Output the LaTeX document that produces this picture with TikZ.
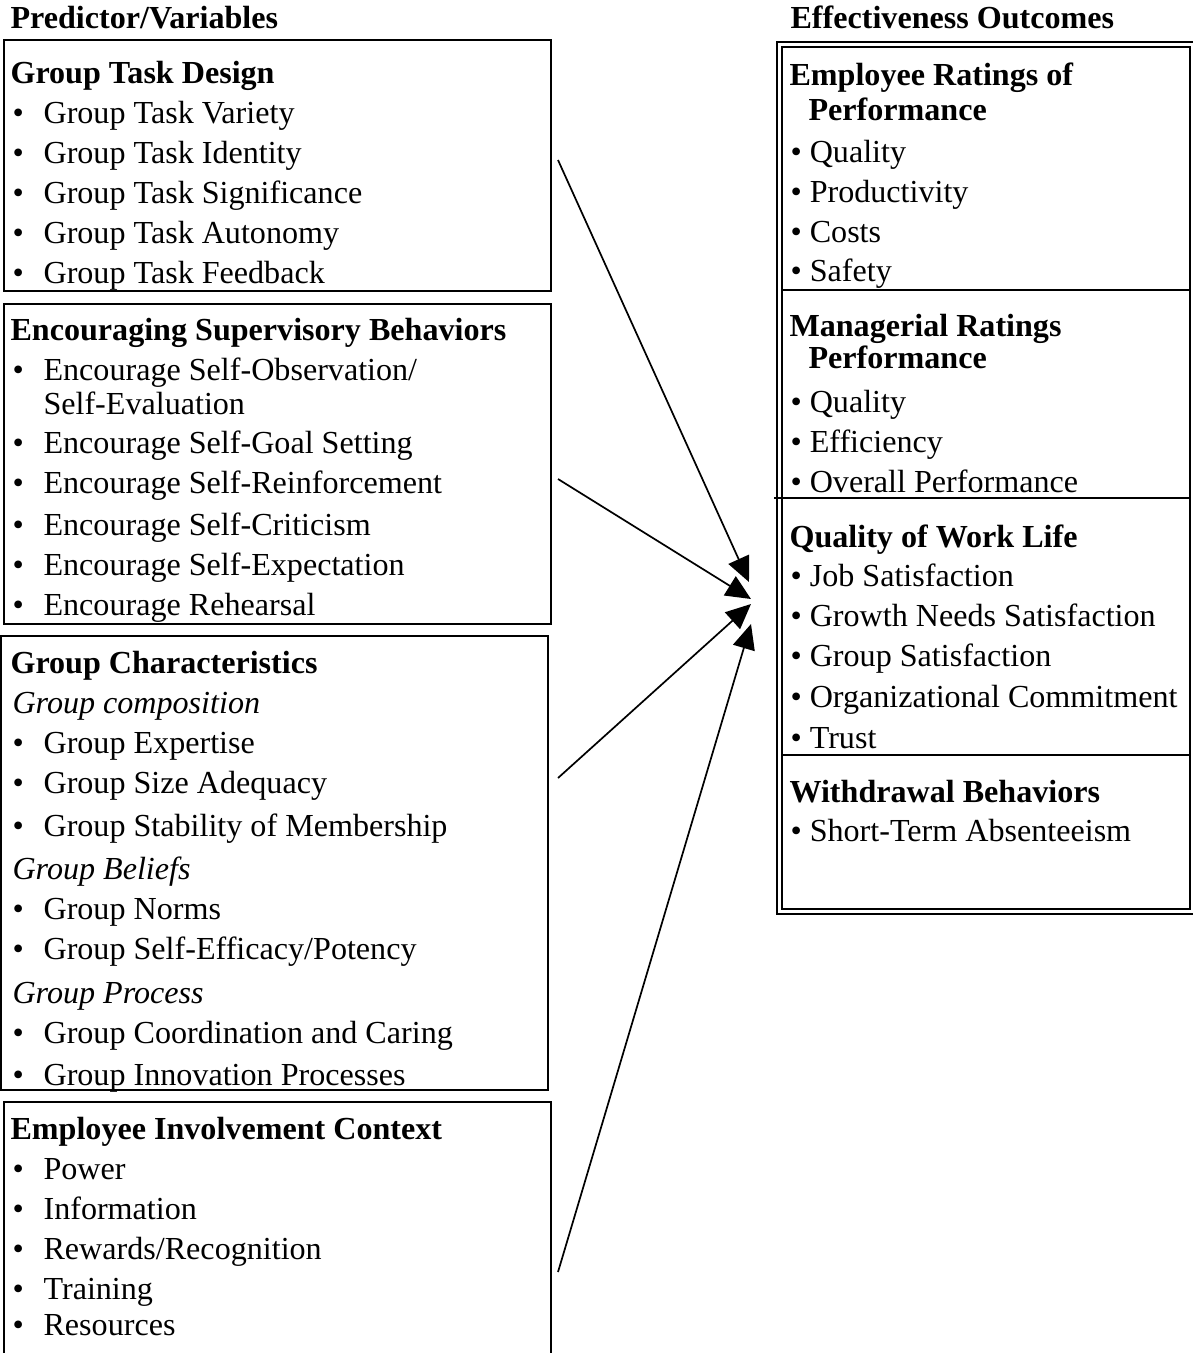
\documentclass[tikz,border=0pt]{standalone}
\usepackage{fontspec}
\setmainfont{Liberation Serif}
\usetikzlibrary{arrows.meta,fit}
\newcommand{\lbul}[1]{\makebox[11.8pt][l]{\textbullet}#1}
\begin{document}
\begin{tikzpicture}[x=0.38pt,y=-0.38pt,
  txt/.style={anchor=base west, inner sep=0pt, font=\fontsize{12.2}{14}\selectfont},
  hd/.style={txt, font=\fontsize{12.2}{14}\selectfont\bfseries},
  itl/.style={txt, font=\fontsize{12.2}{14}\selectfont\itshape},
  box/.style={draw, line width=0.8pt, inner sep=0pt},
  divline/.style={line width=0.8pt},
  arr/.style={line width=0.65pt, -{Triangle[length=9.5pt,width=8.5pt]}}]
\useasboundingbox (0,0) rectangle (1193,1353);

% titles
\node[hd] (t1) at (10,28) {Predictor/Variables};
\node[hd] (t2) at (790,28) {Effectiveness Outcomes};

% left boxes
\node[box, fit={(4,40) (551,291)}] (b1) {};
\node[box, fit={(4,304) (551,624)}] (b2) {};
\node[box, fit={(1,636) (548,1090)}] (b3) {};
\node[box, fit={(4,1102) (551,1380)}] (b4) {};

% box 1
\node[hd] (a0) at (10,83) {Group Task Design};
\node[txt] (a1) at (12,123) {\lbul{Group Task Variety}};
\node[txt] (a2) at (12,163) {\lbul{Group Task Identity}};
\node[txt] (a3) at (12,203) {\lbul{Group Task Significance}};
\node[txt] (a4) at (12,243) {\lbul{Group Task Autonomy}};
\node[txt] (a5) at (12,283) {\lbul{Group Task Feedback}};

% box 2
\node[hd] (c0) at (10,340) {Encouraging Supervisory Behaviors};
\node[txt] (c1) at (12,380) {\lbul{Encourage Self-Observation/}};
\node[txt] (c1b) at (43,414) {Self-Evaluation};
\node[txt] (c2) at (12,453) {\lbul{Encourage Self-Goal Setting}};
\node[txt] (c3) at (12,493) {\lbul{Encourage Self-Reinforcement}};
\node[txt] (c4) at (12,535) {\lbul{Encourage Self-Criticism}};
\node[txt] (c5) at (12,575) {\lbul{Encourage Self-Expectation}};
\node[txt] (c6) at (12,615) {\lbul{Encourage Rehearsal}};

% box 3
\node[hd] (d0) at (10,673) {Group Characteristics};
\node[itl] (d1) at (12,713) {Group composition};
\node[txt] (d2) at (12,753) {\lbul{Group Expertise}};
\node[txt] (d3) at (12,793) {\lbul{Group Size Adequacy}};
\node[txt] (d4) at (12,836) {\lbul{Group Stability of Membership}};
\node[itl] (d5) at (12,879) {Group Beliefs};
\node[txt] (d6) at (12,919) {\lbul{Group Norms}};
\node[txt] (d7) at (12,959) {\lbul{Group Self-Efficacy/Potency}};
\node[itl] (d8) at (12,1003) {Group Process};
\node[txt] (d9) at (12,1043) {\lbul{Group Coordination and Caring}};
\node[txt] (d10) at (12,1085) {\lbul{Group Innovation Processes}};

% box 4
\node[hd] (e0) at (10,1139) {Employee Involvement Context};
\node[txt] (e1) at (12,1179) {\lbul{Power}};
\node[txt] (e2) at (12,1219) {\lbul{Information}};
\node[txt] (e3) at (12,1259) {\lbul{Rewards/Recognition}};
\node[txt] (e4) at (12,1299) {\lbul{Training}};
\node[txt] (e5) at (12,1335) {\lbul{Resources}};

% right box (double border)
\node[box, fit={(777,42) (1200,914)}] (ob) {};
\node[box, fit={(782,47) (1190,909)}] (ib) {};
\coordinate (dv1a) at (782,290); \coordinate (dv1b) at (1190,290);
\coordinate (dv2a) at (774,498); \coordinate (dv2b) at (1190,498);
\coordinate (dv3a) at (782,755); \coordinate (dv3b) at (1190,755);
\draw[divline] (dv1a) -- (dv1b);
\draw[divline] (dv2a) -- (dv2b);
\draw[divline] (dv3a) -- (dv3b);

\node[hd] (r0) at (789,85) {Employee Ratings of};
\node[hd] (r0b) at (808,120) {Performance};
\node[txt] (r1) at (790,162) {\textbullet\ Quality};
\node[txt] (r2) at (790,202) {\textbullet\ Productivity};
\node[txt] (r3) at (790,242) {\textbullet\ Costs};
\node[txt] (r4) at (790,281) {\textbullet\ Safety};

\node[hd] (m0) at (789,336) {Managerial Ratings};
\node[hd] (m0b) at (808,368) {Performance};
\node[txt] (m1) at (790,412) {\textbullet\ Quality};
\node[txt] (m2) at (790,452) {\textbullet\ Efficiency};
\node[txt] (m3) at (790,492) {\textbullet\ Overall Performance};

\node[hd] (q0) at (789,547) {Quality of Work Life};
\node[txt] (q1) at (790,586) {\textbullet\ Job Satisfaction};
\node[txt] (q2) at (790,626) {\textbullet\ Growth Needs Satisfaction};
\node[txt] (q3) at (790,666) {\textbullet\ Group Satisfaction};
\node[txt] (q4) at (790,707) {\textbullet\ Organizational Commitment};
\node[txt] (q5) at (790,748) {\textbullet\ Trust};

\node[hd] (w0) at (789,802) {Withdrawal Behaviors};
\node[txt] (w1) at (790,841) {\textbullet\ Short-Term Absenteeism};

% arrows
\coordinate (s1) at (558,160);
\coordinate (s2) at (558,479);
\coordinate (s3) at (558,778);
\coordinate (s4) at (558,1272);
\coordinate (h1) at (749,582);
\coordinate (h2) at (751,599);
\coordinate (h3) at (751,604);
\coordinate (h4) at (751,624);
\draw[arr] (s1) -- (h1);
\draw[arr] (s2) -- (h2);
\draw[arr] (s3) -- (h3);
\draw[arr] (s4) -- (h4);
\end{tikzpicture}
\end{document}
